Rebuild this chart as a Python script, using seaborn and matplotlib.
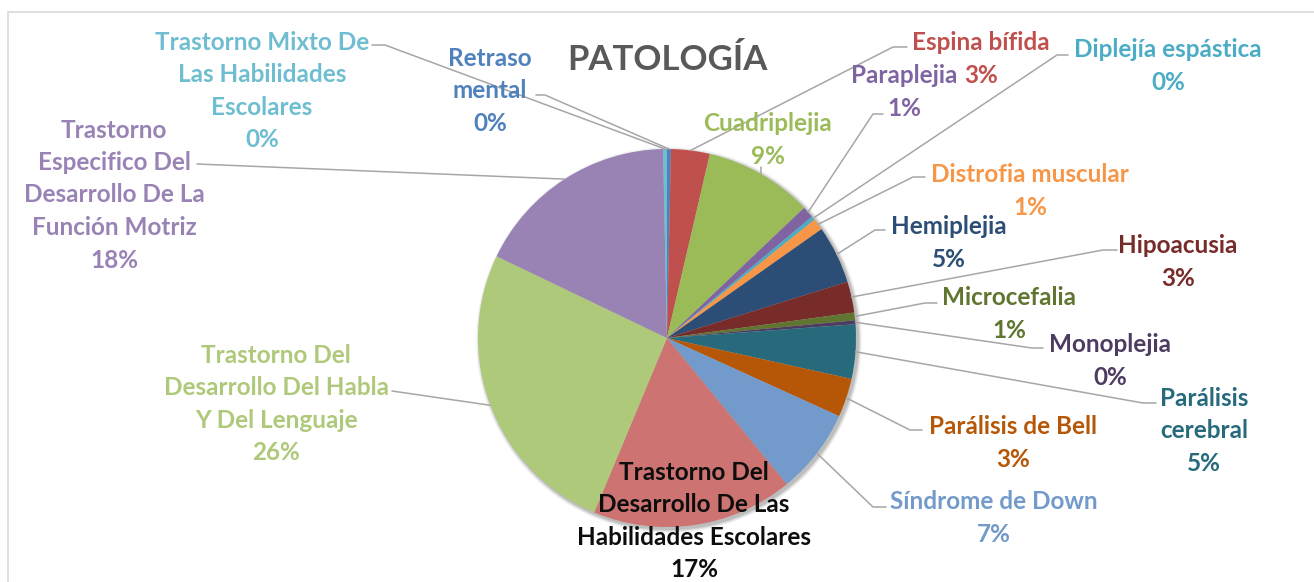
import textwrap
import matplotlib
matplotlib.use("Agg")
import matplotlib.pyplot as plt
from matplotlib.patches import Rectangle, Circle
import numpy as np
import seaborn as sns

# pie slices, clockwise from 12 o'clock
categories = [
    "Retraso mental", "Espina bífida", "Cuadriplejia", "Paraplejia",
    "Diplejía espástica", "Distrofia muscular", "Hemiplejia", "Hipoacusia",
    "Microcefalia", "Monoplejia", "Parálisis cerebral", "Parálisis de Bell",
    "Síndrome de Down",
    "Trastorno Del Desarrollo De Las Habilidades Escolares",
    "Trastorno Del Desarrollo Del Habla Y Del Lenguaje",
    "Trastorno Especifico Del Desarrollo De La Función Motriz",
    "Trastorno Mixto De Las Habilidades Escolares",
]
counts = [1, 10, 28, 3, 1, 3, 15, 8, 2, 1, 14, 10, 22, 52, 78, 53, 1]
title = "PATOLOGÍA"

# office 2010 palette
colors = ["#4F81BD", "#C0504D", "#9BBB59", "#8064A2", "#4BACC6", "#F79646",
          "#2C4D75", "#772C2A", "#5F7530", "#4D3B62", "#276A7C", "#B65708",
          "#729ACA", "#CD7371", "#AFC97A", "#9983B5", "#6FBDD1"]

# label layout in image pixels: text centre x, y, wrap width, elbow x, y, end x
layout = {
    "Retraso mental": (490, 89, 8, 545, 95, 536),
    "Espina bífida": (981, 57, 30, 893, 47, 907),
    "Cuadriplejia": (768, 138, 30, 761, 167, None),
    "Paraplejia": (904, 90, 30, 873, 114, 883),
    "Diplejía espástica": (1168, 64, 30, 1057, 55, 1068),
    "Distrofia muscular": (1030, 189, 30, 913, 177, 925),
    "Hemiplejia": (949, 241, 30, 875, 230, 885),
    "Hipoacusia": (1178, 260, 30, 1103, 250, 1117),
    "Microcefalia": (1009, 312, 30, 925, 303, 937),
    "Monoplejia": (1110, 359, 30, 1032, 348, 1043),
    "Parálisis cerebral": (1204, 429, 10, 1143, 403, 1156),
    "Parálisis de Bell": (1013, 441, 30, 910, 430, 922),
    "Síndrome de Down": (994, 516, 30, 873, 507, 886),
    "Trastorno Del Desarrollo De Las Habilidades Escolares": (694, 519, 21, None, None, None),
    "Trastorno Del Desarrollo Del Habla Y Del Lenguaje": (276, 402, 20, 392, 391, None),
    "Trastorno Especifico Del Desarrollo De La Función Motriz": (114, 193, 16, 197, 164, None),
    "Trastorno Mixto De Las Habilidades Escolares": (262, 89, 18, 385, 45, 372),
}
line_step = 32.5

W, H = 1314, 582
cx, cy, r = 667, 338, 189

sns.set_theme(style="white")
plt.rcParams['font.family'] = ['Lato', 'DejaVu Sans']

fig = plt.figure(figsize=(W / 100, H / 100), dpi=100)
ax = fig.add_axes([0, 0, 1, 1])

# soft shadow behind the pie
for k, a in [(4, 0.04), (3, 0.06), (2, 0.08), (1, 0.10)]:
    ax.add_patch(Circle((cx + 2, H - cy - 2), r + k, color="#000000", alpha=a, lw=0))

wedges, _ = ax.pie(counts, colors=colors, startangle=90, counterclock=False,
                   center=(cx, H - cy), radius=r, wedgeprops=dict(linewidth=0))

ax.set_xlim(0, W)
ax.set_ylim(0, H)
ax.set_aspect("auto")
ax.axis("off")

total = sum(counts)
for name, v, w, col in zip(categories, counts, wedges, colors):
    tx, ty, wrap, ex, ey, hx = layout[name]
    pct = int(v / total * 100 + 0.5)
    lines = textwrap.wrap(name, wrap) + ["%d%%" % pct]
    tcol = col
    if name.startswith("Trastorno Del Desarrollo De Las"):
        tcol = "#0D0D0D"
    n = len(lines)
    for i, ln in enumerate(lines):
        y = ty + (i - (n - 1) / 2) * line_step
        ax.text(tx, H - y, ln, ha="center", va="center_baseline", fontsize=17.5,
                fontweight="bold", color=tcol, zorder=5)
    if ex is None:
        continue
    mid = np.deg2rad((w.theta1 + w.theta2) / 2)
    axx = cx + r * np.cos(mid)
    ayy = (H - cy) + r * np.sin(mid)
    xs = [axx, ex]
    ys = [ayy, H - ey]
    if hx is not None:
        xs.append(hx)
        ys.append(H - ey)
    ax.plot(xs, ys, color="#A6A6A6", lw=1.1, zorder=4)

ax.text(667, H - 60, title, ha="center", va="center", fontsize=25,
        fontweight="bold", color="#595959")

# chart area border
ax.add_patch(Rectangle((8, -20), W + 20, H - 12 + 20, fill=False,
                       edgecolor="#D9D9D9", lw=1.2, clip_on=False))

fig.savefig("out.png", dpi=100)
